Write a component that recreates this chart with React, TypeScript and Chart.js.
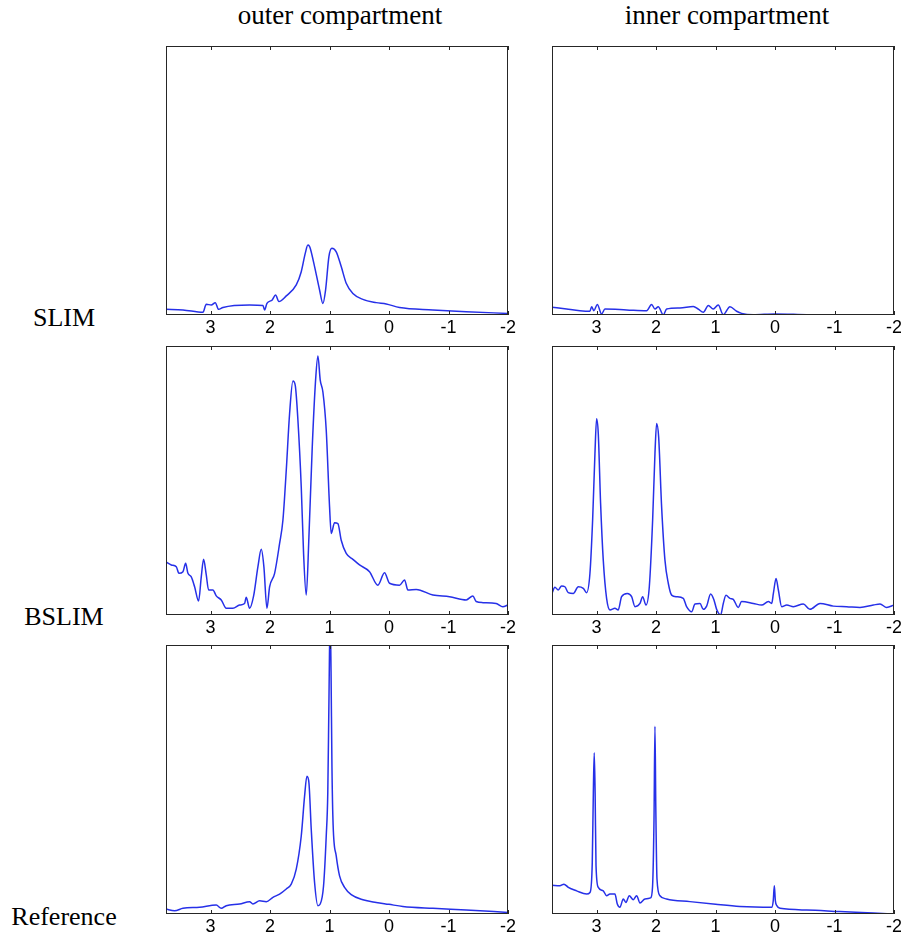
import React, { useEffect, useRef } from "react";
import { Chart, registerables } from "chart.js";

Chart.register(...registerables);

const xTickValues = [3, 2, 1, 0, -1, -2];
const xLeft = 3.75;
const xRight = -2;
const columnTitles = ["outer compartment", "inner compartment"];
const rowLabels = ["SLIM", "BSLIM", "Reference"];

// SLIM, outer compartment
const slimOuterX = [3.756, 3.465, 3.129, 3.073, 2.989, 2.922, 2.866, 2.793, 2.345, 2.12, 2.092, 2.053, 1.964, 1.908, 1.852, 1.728, 1.56, 1.476, 1.409, 1.364, 1.34, 1.325, 1.252, 1.168, 1.112, 1.067, 1.011, 0.961, 0.888, 0.804, 0.72, 0.608, 0.44, 0.216, 0.048, -0.176, -0.737, -1.297, -1.997];
const slimOuterY = [0.021, 0.019, 0.01, 0.04, 0.037, 0.046, 0.021, 0.028, 0.037, 0.035, 0.019, 0.043, 0.056, 0.074, 0.05, 0.071, 0.112, 0.161, 0.229, 0.26, 0.256, 0.248, 0.18, 0.093, 0.043, 0.093, 0.217, 0.248, 0.235, 0.18, 0.118, 0.08, 0.058, 0.046, 0.041, 0.028, 0.019, 0.012, 0.006];

// SLIM, inner compartment
const slimInnerX = [3.751, 3.504, 3.28, 3.112, 3.084, 3.045, 2.989, 2.916, 2.86, 2.496, 2.159, 2.075, 2.019, 1.963, 1.879, 1.823, 1.599, 1.374, 1.29, 1.206, 1.122, 1.039, 0.955, 0.87, 0.758, 0.646, 0.562, 0.365, 0.0, -0.531, -1.092, -2.0];
const slimInnerY = [0.029, 0.022, 0.016, 0.014, 0.031, 0.016, 0.039, 0.004, 0.022, 0.019, 0.016, 0.039, 0.022, 0.031, 0.0, 0.022, 0.026, 0.032, 0.022, 0.01, 0.035, 0.022, 0.037, 0.001, 0.031, 0.014, 0.006, 0.001, 0.004, 0.001, 0.0, 0.001];

// BSLIM, outer compartment
const bslimOuterX = [3.756, 3.661, 3.577, 3.532, 3.465, 3.42, 3.381, 3.325, 3.269, 3.202, 3.157, 3.118, 3.073, 3.034, 2.961, 2.905, 2.821, 2.737, 2.625, 2.513, 2.429, 2.401, 2.345, 2.277, 2.205, 2.148, 2.104, 2.053, 2.008, 1.924, 1.84, 1.784, 1.728, 1.672, 1.616, 1.577, 1.532, 1.476, 1.437, 1.392, 1.347, 1.291, 1.235, 1.196, 1.157, 1.112, 1.056, 1.0, 0.972, 0.916, 0.86, 0.804, 0.72, 0.608, 0.496, 0.328, 0.188, 0.076, -0.008, -0.176, -0.261, -0.317, -0.457, -0.737, -1.017, -1.297, -1.409, -1.465, -1.577, -1.801, -1.913, -1.997];
const bslimOuterY = [0.198, 0.186, 0.179, 0.155, 0.161, 0.192, 0.155, 0.142, 0.105, 0.052, 0.142, 0.207, 0.149, 0.093, 0.093, 0.071, 0.056, 0.025, 0.025, 0.037, 0.043, 0.066, 0.025, 0.071, 0.179, 0.244, 0.179, 0.025, 0.105, 0.155, 0.266, 0.353, 0.538, 0.749, 0.87, 0.854, 0.724, 0.476, 0.229, 0.074, 0.291, 0.625, 0.873, 0.963, 0.873, 0.829, 0.687, 0.402, 0.303, 0.343, 0.34, 0.278, 0.229, 0.207, 0.186, 0.161, 0.111, 0.157, 0.118, 0.111, 0.13, 0.093, 0.095, 0.074, 0.068, 0.056, 0.071, 0.05, 0.046, 0.043, 0.031, 0.037];

// BSLIM, inner compartment
const bslimInnerX = [3.751, 3.701, 3.645, 3.589, 3.533, 3.476, 3.392, 3.308, 3.224, 3.168, 3.112, 3.067, 3.028, 3.0, 2.972, 2.933, 2.888, 2.832, 2.776, 2.692, 2.636, 2.58, 2.484, 2.411, 2.355, 2.271, 2.226, 2.17, 2.114, 2.058, 2.019, 1.991, 1.957, 1.907, 1.851, 1.795, 1.739, 1.655, 1.543, 1.487, 1.402, 1.346, 1.262, 1.206, 1.15, 1.083, 1.027, 0.982, 0.915, 0.87, 0.825, 0.758, 0.702, 0.618, 0.562, 0.365, 0.225, 0.112, 0.056, 0.028, -0.017, -0.056, -0.112, -0.197, -0.309, -0.475, -0.587, -0.756, -0.98, -1.204, -1.428, -1.652, -1.765, -1.877, -2.0];
const bslimInnerY = [0.08, 0.103, 0.093, 0.108, 0.105, 0.083, 0.08, 0.105, 0.099, 0.083, 0.155, 0.353, 0.6, 0.73, 0.675, 0.415, 0.204, 0.062, 0.019, 0.025, 0.019, 0.068, 0.08, 0.068, 0.031, 0.043, 0.068, 0.037, 0.105, 0.353, 0.6, 0.712, 0.662, 0.402, 0.204, 0.118, 0.074, 0.068, 0.062, 0.031, 0.012, 0.041, 0.043, 0.021, 0.033, 0.078, 0.056, 0.021, 0.0, 0.043, 0.073, 0.062, 0.058, 0.028, 0.05, 0.043, 0.037, 0.05, 0.043, 0.08, 0.136, 0.093, 0.031, 0.037, 0.031, 0.041, 0.021, 0.043, 0.033, 0.031, 0.028, 0.037, 0.041, 0.028, 0.037];

// Reference, outer compartment
const refOuterX = [3.756, 3.605, 3.465, 3.185, 2.905, 2.821, 2.737, 2.513, 2.345, 2.289, 2.176, 2.064, 1.952, 1.84, 1.728, 1.644, 1.56, 1.476, 1.42, 1.381, 1.347, 1.308, 1.252, 1.196, 1.157, 1.101, 1.056, 1.03, 1.01, 0.99, 0.975, 0.96, 0.94, 0.888, 0.832, 0.748, 0.636, 0.44, 0.216, 0.003, -0.232, -0.737, -1.297, -1.997];
const refOuterY = [0.019, 0.012, 0.021, 0.025, 0.033, 0.021, 0.031, 0.037, 0.046, 0.037, 0.049, 0.046, 0.062, 0.074, 0.093, 0.111, 0.167, 0.29, 0.438, 0.512, 0.488, 0.315, 0.117, 0.031, 0.037, 0.105, 0.29, 0.45, 0.8, 1.12, 0.9, 0.55, 0.33, 0.216, 0.142, 0.099, 0.072, 0.053, 0.043, 0.036, 0.028, 0.021, 0.015, 0.006];

// Reference, inner compartment
const refInnerX = [3.751, 3.617, 3.549, 3.476, 3.336, 3.168, 3.112, 3.073, 3.055, 3.04, 3.025, 3.01, 2.972, 2.888, 2.832, 2.776, 2.692, 2.652, 2.608, 2.552, 2.507, 2.451, 2.383, 2.327, 2.271, 2.187, 2.092, 2.06, 2.035, 2.019, 2.005, 1.985, 1.935, 1.823, 1.43, 0.999, 0.59, 0.057, 0.03, 0.012, -0.005, -0.03, -0.084, -0.531, -1.092, -1.652, -2.0];
const refInnerY = [0.107, 0.105, 0.111, 0.099, 0.086, 0.074, 0.08, 0.191, 0.45, 0.599, 0.45, 0.18, 0.099, 0.086, 0.068, 0.074, 0.074, 0.037, 0.025, 0.056, 0.043, 0.068, 0.053, 0.068, 0.041, 0.056, 0.06, 0.1, 0.35, 0.698, 0.4, 0.13, 0.068, 0.056, 0.046, 0.036, 0.028, 0.025, 0.05, 0.105, 0.05, 0.031, 0.021, 0.015, 0.009, 0.004, 0.0];

const panels = [
  { xs: slimOuterX, ys: slimOuterY, row: 0, col: 0 },
  { xs: slimInnerX, ys: slimInnerY, row: 0, col: 1 },
  { xs: bslimOuterX, ys: bslimOuterY, row: 1, col: 0 },
  { xs: bslimInnerX, ys: bslimInnerY, row: 1, col: 1 },
  { xs: refOuterX, ys: refOuterY, row: 2, col: 0 },
  { xs: refInnerX, ys: refInnerY, row: 2, col: 1 },
];

const AREA_W = 342;
const AREA_H = 269;
const PAD_L = 20;
const PAD_R = 20;
const PAD_T = 4;
const AXIS_H = 28;
const colLeft = [166, 552];
const rowTop = [46, 346, 645];
const colCenter = [340, 727];
const rowBaseline = [327, 626, 926];
const LINE_COLOR = "rgb(38,48,232)";

const boxPlugin = {
  id: "matlabBox",
  afterDraw(chart: any) {
    const { ctx, chartArea: a } = chart;
    const xs = chart.scales.x;
    ctx.save();
    ctx.strokeStyle = "#262626";
    ctx.lineWidth = 1;
    ctx.strokeRect(a.left + 0.5, a.top + 0.5, a.right - a.left - 1, a.bottom - a.top - 1);
    ctx.beginPath();
    for (const v of xTickValues) {
      const px = Math.round(xs.getPixelForValue(v)) + 0.5;
      ctx.moveTo(px, a.bottom);
      ctx.lineTo(px, a.bottom - 4);
      ctx.moveTo(px, a.top);
      ctx.lineTo(px, a.top + 4);
    }
    ctx.stroke();
    ctx.restore();
  },
};

function Panel({ xs, ys, row, col }: { xs: number[]; ys: number[]; row: number; col: number }) {
  const ref = useRef<HTMLCanvasElement | null>(null);
  useEffect(() => {
    if (!ref.current) return;
    const chart = new Chart(ref.current, {
      type: "line",
      data: {
        datasets: [
          {
            data: xs.map((x, i) => ({ x, y: ys[i] })),
            borderColor: LINE_COLOR,
            borderWidth: 1.5,
            pointRadius: 0,
            cubicInterpolationMode: "monotone",
            fill: false,
          },
        ],
      },
      options: {
        animation: false,
        responsive: false,
        maintainAspectRatio: false,
        events: [],
        layout: { padding: { left: PAD_L, right: PAD_R, top: PAD_T, bottom: 0 } },
        plugins: { legend: { display: false }, tooltip: { enabled: false } },
        scales: {
          x: {
            type: "linear",
            reverse: true,
            min: xRight,
            max: xLeft,
            afterBuildTicks: (s: any) => {
              s.ticks = xTickValues.map((v) => ({ value: v }));
            },
            afterFit: (s: any) => {
              s.height = AXIS_H;
            },
            grid: { display: false, drawTicks: false },
            border: { display: false },
            ticks: {
              autoSkip: false,
              maxRotation: 0,
              padding: 2,
              color: "#000",
              font: { family: "'Liberation Sans', Arial, sans-serif", size: 18 },
              callback: (v: any) => String(v),
            },
          },
          y: { display: false, min: 0, max: 1 },
        },
      } as any,
      plugins: [boxPlugin],
    });
    return () => chart.destroy();
  }, [xs, ys]);

  const w = AREA_W + PAD_L + PAD_R;
  const h = PAD_T + AREA_H + AXIS_H;
  return (
    <canvas
      ref={ref}
      width={w}
      height={h}
      style={{
        position: "absolute",
        left: colLeft[col] - PAD_L,
        top: rowTop[row] - PAD_T,
        width: w,
        height: h,
      }}
    />
  );
}

export default function App() {
  const serif = "'Liberation Serif', 'Times New Roman', serif";
  return (
    <div
      style={{
        position: "absolute",
        left: 0,
        top: 0,
        width: 901,
        height: 936,
        overflow: "hidden",
        background: "#fff",
      }}
    >
      {columnTitles.map((t, i) => (
        <div
          key={t}
          style={{
            position: "absolute",
            left: colCenter[i] - 150,
            width: 300,
            top: 25 - 22.6,
            textAlign: "center",
            fontFamily: serif,
            fontSize: 27,
            lineHeight: "27px",
            color: "#000",
            whiteSpace: "nowrap",
          }}
        >
          {t}
        </div>
      ))}
      {rowLabels.map((t, i) => (
        <div
          key={t}
          style={{
            position: "absolute",
            left: 0,
            width: 128,
            top: rowBaseline[i] - 21.8,
            textAlign: "center",
            fontFamily: serif,
            fontSize: 26,
            lineHeight: "26px",
            color: "#000",
            whiteSpace: "nowrap",
          }}
        >
          {t}
        </div>
      ))}
      {panels.map((p, i) => (
        <Panel key={i} xs={p.xs} ys={p.ys} row={p.row} col={p.col} />
      ))}
    </div>
  );
}
